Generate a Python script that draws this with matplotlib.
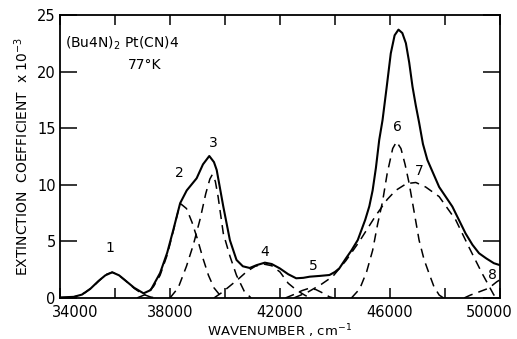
import matplotlib
matplotlib.use("Agg")
import matplotlib.pyplot as plt
from matplotlib.transforms import ScaledTranslation

# total spectrum (wavenumber, extinction x 10^-3)
total_wn = [34000, 34500, 34800, 35100, 35400, 35650, 35900, 36150, 36400, 36700,
            37040, 37300, 37640, 37900, 38120, 38370, 38610, 38970, 39200, 39430,
            39600, 39700, 39940, 40180, 40420, 40650, 40900, 41150, 41450, 41700,
            41990, 42300, 42590, 42850, 43080, 43450, 43800, 44000, 44160, 44400,
            44600, 44830, 45100, 45250, 45370, 45490, 45610, 45730, 45880, 46030,
            46170, 46310, 46450, 46580, 46700, 46820, 46940, 47060, 47200, 47360,
            47790, 48270, 48750, 49000, 49240, 49500, 49780, 50000]
total_val = [0.05, 0.1, 0.3, 0.8, 1.5, 2.0, 2.27, 2.0, 1.5, 0.9,
             0.41, 0.7, 2.2, 4.0, 6.0, 8.37, 9.5, 10.57, 11.8, 12.54,
             12.0, 11.3, 8.07, 5.1, 3.36, 2.8, 2.65, 2.9, 3.12, 3.0,
             2.62, 2.1, 1.74, 1.78, 1.88, 1.95, 2.03, 2.3, 2.62, 3.5,
             4.2, 5.12, 6.9, 8.1, 9.5, 11.5, 13.96, 15.7, 18.6, 21.6,
             23.2, 23.7, 23.4, 22.5, 20.8, 18.67, 17.0, 15.5, 13.6, 12.2,
             9.8, 8.07, 5.7, 4.7, 3.95, 3.5, 3.07, 2.9]

# resolved gaussian components (dashed)
c1_wn = [34300, 34600, 34900, 35200, 35500, 35700, 35900, 36150, 36400, 36700, 37000, 37300, 37500]
c1_val = [0, 0.15, 0.45, 1.0, 1.7, 2.1, 2.27, 2.0, 1.5, 0.85, 0.35, 0.08, 0]

c2_wn = [36800, 37100, 37400, 37640, 37900, 38120, 38300, 38400, 38600, 38800,
         39000, 39200, 39400, 39600, 39800, 40000]
c2_val = [0, 0.3, 1.0, 2.0, 3.8, 5.9, 7.7, 8.3, 7.9, 6.7,
          5.2, 3.5, 2.0, 0.9, 0.3, 0]

c3_wn = [38000, 38300, 38600, 38850, 39100, 39300, 39450, 39540, 39650, 39750,
         39940, 40180, 40420, 40700, 40950]
c3_val = [0, 0.9, 2.8, 4.7, 7.0, 9.2, 10.5, 10.9, 10.3, 8.95,
          5.7, 3.7, 2.0, 0.6, 0]

c4_wn = [39600, 39900, 40200, 40500, 40800, 41100, 41400, 41700, 42000, 42300, 42600, 42900, 43100]
c4_val = [0, 0.5, 1.1, 1.7, 2.35, 2.8, 3.0, 2.85, 2.3, 1.3, 0.7, 0.25, 0]

c5_wn = [42200, 42500, 42800, 43050, 43300, 43550, 43800, 43950]
c5_val = [0, 0.3, 0.65, 0.85, 0.75, 0.45, 0.1, 0]

c6_wn = [44600, 44900, 45150, 45370, 45550, 45730, 45900, 46100, 46240, 46400,
         46550, 46700, 46880, 47060, 47240, 47420, 47600, 47790, 47950]
c6_val = [0, 0.8, 2.3, 4.2, 6.5, 8.5, 11.0, 13.2, 13.8, 13.2,
          11.8, 10.1, 7.6, 5.1, 3.4, 2.18, 1.0, 0.26, 0]

c7_wn = [42500, 43000, 43500, 43920, 44400, 44890, 45490, 45900, 46210, 46600,
         46940, 47300, 47790, 48390, 48870, 49350, 49780, 49950]
c7_val = [0, 0.5, 1.2, 1.9, 3.3, 5.0, 7.3, 8.7, 9.5, 10.1,
          10.2, 9.8, 8.95, 6.9, 4.5, 2.18, 0.26, 0]

c8_wn = [48700, 48930, 49200, 49590, 49890, 50000]
c8_val = [0, 0.26, 0.5, 0.86, 1.44, 1.6]

components = [(c1_wn, c1_val), (c2_wn, c2_val), (c3_wn, c3_val), (c4_wn, c4_val),
              (c5_wn, c5_val), (c6_wn, c6_val), (c7_wn, c7_val), (c8_wn, c8_val)]

band_labels = ['1', '2', '3', '4', '5', '6', '7', '8']
label_wn = [35830, 38330, 39570, 41450, 43200, 46270, 47060, 49720]
label_val = [4.4, 11.0, 13.7, 4.1, 2.8, 15.1, 11.2, 2.0]

fig = plt.figure(figsize=(5.17, 3.39), dpi=100)
ax = fig.add_axes([0.116, 0.121, 0.851, 0.835])

for wn, val in components:
    ax.plot(wn, val, color='black', lw=1.1, dashes=(6, 4), solid_joinstyle='round')
ax.plot(total_wn, total_val, color='black', lw=1.5, solid_joinstyle='round')

for lab, x, y in zip(band_labels, label_wn, label_val):
    ax.text(x, y, lab, fontsize=10, ha='center', va='center')

ax.text(34200, 22.5, r'(Bu4N)$_2$ Pt(CN)4', fontsize=10, ha='left', va='center')
ax.text(37080, 20.6, '77°K', fontsize=10, ha='center', va='center')

ax.set_xlim(34000, 50000)
ax.set_ylim(0, 25)
ax.set_xticks([34000, 38000, 42000, 46000, 50000])
ax.set_xticks([36000, 40000, 44000, 48000], minor=True)
ax.set_yticks([0, 5, 10, 15, 20, 25])
ax.tick_params(axis='x', which='both', direction='in', length=7, width=1.1,
               top=True, labelsize=10.5, pad=5)
ax.tick_params(axis='y', which='both', direction='in', length=12, width=1.1,
               right=True, labelsize=10.5, pad=3)
for s in ax.spines.values():
    s.set_linewidth(1.3)

# first and last x labels sit a bit inside the frame in the original
xlabs = ax.get_xticklabels()
xlabs[0].set_transform(xlabs[0].get_transform() + ScaledTranslation(0.15, 0, fig.dpi_scale_trans))
xlabs[-1].set_transform(xlabs[-1].get_transform() + ScaledTranslation(-0.11, 0, fig.dpi_scale_trans))

ax.set_xlabel(r'WAVENUMBER , cm$^{-1}$', fontsize=9.5, labelpad=2)
ax.set_ylabel(r'EXTINCTION  COEFFICIENT  x 10$^{-3}$', fontsize=10, labelpad=4)

fig.savefig('out.png', dpi=100)
